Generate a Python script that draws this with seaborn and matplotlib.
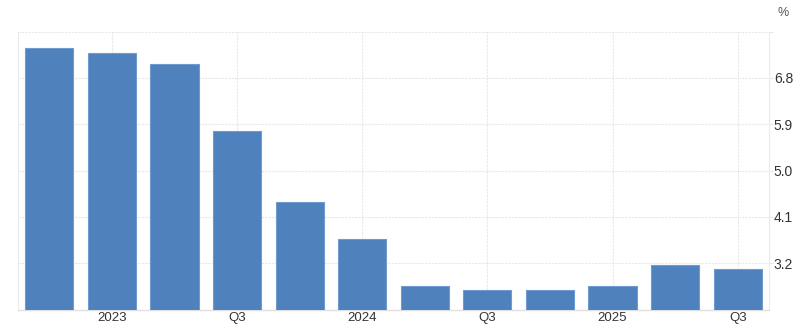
import matplotlib
matplotlib.use("Agg")
import matplotlib.pyplot as plt
import seaborn as sns
import pandas as pd

quarters = ["2022Q4", "2023Q1", "2023Q2", "2023Q3", "2023Q4", "2024Q1",
            "2024Q2", "2024Q3", "2024Q4", "2025Q1", "2025Q2", "2025Q3"]
values = [7.39, 7.29, 7.08, 5.77, 4.38, 3.67, 2.76, 2.68, 2.68, 2.76, 3.17, 3.08]
tick_positions = [1, 3, 5, 7, 9, 11]
tick_labels = ["2023", "Q3", "2024", "Q3", "2025", "Q3"]
y_ticks = [3.2, 4.1, 5.0, 5.9, 6.8, 7.7]
y_tick_labels = ["3.2", "4.1", "5.0", "5.9", "6.8", ""]

sns.set_style("white")
plt.rcParams['font.family'] = ['Liberation Sans', 'DejaVu Sans']

df = pd.DataFrame({"quarter": quarters, "value": values})

fig = plt.figure(figsize=(8, 3.25), dpi=100)
ax = fig.add_axes([18 / 800, 1 - 310 / 325, (769 - 18) / 800, (310 - 31.7) / 325])

sns.barplot(data=df, x="quarter", y="value", order=quarters, color="#4f81bd",
            saturation=1, width=0.77, edgecolor="#6f9bd0", linewidth=0.8, ax=ax, zorder=3)

ax.set_xlim(-0.5, 11.5)
ax.set_ylim(2.29, 7.7)

ax.set_xticks(tick_positions)
ax.set_xticklabels(tick_labels)
ax.set_yticks(y_ticks)
ax.set_yticklabels(y_tick_labels)
ax.yaxis.tick_right()
ax.tick_params(axis="x", length=0, labelsize=9.5, colors="#333333", pad=1.5)
ax.tick_params(axis="y", length=3, width=0.8, color="#e6e6e6", labelsize=10,
               labelcolor="#333333", pad=0.5)

ax.grid(True, color="#e8e8e8", linestyle=(0, (2, 1)), linewidth=0.8, zorder=0)
ax.set_axisbelow(True)
ax.set_xlabel("")
ax.set_ylabel("")

ax.spines["top"].set_visible(False)
for side in ["left", "right"]:
    ax.spines[side].set_color("#ebebeb")
    ax.spines[side].set_linewidth(0.8)
ax.spines["bottom"].set_color("#e0e0e0")
ax.spines["bottom"].set_linewidth(1.0)

fig.text(783 / 800, 1 - 13 / 325, "%", fontsize=9, color="#555555", ha="center", va="center")

fig.savefig("out.png", dpi=100)
